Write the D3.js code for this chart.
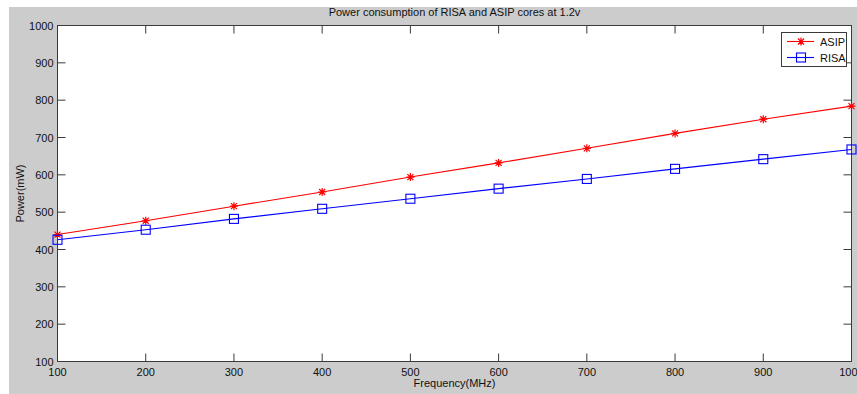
<!DOCTYPE html>
<html><head><meta charset="utf-8">
<script src="https://cdn.jsdelivr.net/npm/d3@7"></script>
<style>body{margin:0;background:#fff;}svg{display:block;font-family:"Liberation Sans",Arial,sans-serif;}</style>
</head><body><svg id="c" width="857" height="394"></svg>
<script>
const freq = [100,200,300,400,500,600,700,800,900,1000];
const asip = [440,477,516,554,594,632,671,711,749,784];
const risa = [426,453,482,509,536,563,589,616,642,668];
const xTicks = [100,200,300,400,500,600,700,800,900,1000];
const yTicks = [100,200,300,400,500,600,700,800,900,1000];
const title = "Power consumption of RISA and ASIP cores at 1.2v";
const xLabel = "Frequency(MHz)";
const yLabel = "Power(mW)";

const svg = d3.select("#c");
svg.append("rect").attr("x",9).attr("y",7).attr("width",848).attr("height",387).attr("fill","#cccccc");
const L=57.5, R=851.5, T=25.5, B=361.5;
const x = d3.scaleLinear().domain([100,1000]).range([L,R]);
const y = d3.scaleLinear().domain([100,1000]).range([B,T]);
svg.append("rect").attr("x",L).attr("y",T).attr("width",R-L).attr("height",B-T).attr("fill","#fff");

const axCol="#3a3a3a", tk=8;
const g = svg.append("g");
// ticks
xTicks.forEach(v=>{
  g.append("line").attr("x1",x(v)).attr("x2",x(v)).attr("y1",B).attr("y2",B-tk).attr("stroke",axCol);
  g.append("line").attr("x1",x(v)).attr("x2",x(v)).attr("y1",T).attr("y2",T+tk).attr("stroke",axCol);
  g.append("text").attr("x",x(v)).attr("y",B+14).attr("text-anchor","middle").attr("font-size",11).attr("fill","#111").text(v);
});
yTicks.forEach(v=>{
  g.append("line").attr("y1",y(v)).attr("y2",y(v)).attr("x1",L).attr("x2",L+tk).attr("stroke",axCol);
  g.append("line").attr("y1",y(v)).attr("y2",y(v)).attr("x1",R).attr("x2",R-tk).attr("stroke",axCol);
  g.append("text").attr("x",L-4).attr("y",y(v)+4).attr("text-anchor","end").attr("font-size",11).attr("fill","#111").text(v);
});
g.append("rect").attr("x",L).attr("y",T).attr("width",R-L).attr("height",B-T).attr("fill","none").attr("stroke",axCol);

svg.append("text").attr("x",(L+R)/2).attr("y",16).attr("text-anchor","middle").attr("font-size",11).attr("fill","#111").text(title);
svg.append("text").attr("x",(L+R)/2).attr("y",387).attr("text-anchor","middle").attr("font-size",11).attr("fill","#111").text(xLabel);
svg.append("text").attr("transform","translate(24,"+((T+B)/2)+") rotate(-90)").attr("text-anchor","middle").attr("font-size",11).attr("fill","#111").text(yLabel);

const line = d3.line();
function star(sel,cx,cy,col){
  const s=4, d=3;
  sel.append("path").attr("d",`M${cx-s},${cy}H${cx+s}M${cx},${cy-s}V${cy+s}M${cx-d},${cy-d}L${cx+d},${cy+d}M${cx-d},${cy+d}L${cx+d},${cy-d}`).attr("stroke",col).attr("stroke-width",1.2).attr("fill","none");
}
function square(sel,cx,cy,col){
  sel.append("rect").attr("x",cx-4.5).attr("y",cy-4.5).attr("width",9).attr("height",9).attr("fill","none").attr("stroke",col).attr("stroke-width",1.1);
}
const series=[{name:"ASIP",vals:asip,col:"#ff0000",m:star},{name:"RISA",vals:risa,col:"#0000ff",m:square}];
const pg = svg.append("g");
series.forEach(s=>{
  pg.append("path").attr("d",line(freq.map((f,i)=>[x(f),y(s.vals[i])]))).attr("fill","none").attr("stroke",s.col).attr("stroke-width",1.1);
  freq.forEach((f,i)=>s.m(pg,x(f),y(s.vals[i]),s.col));
});
// legend
const lg = svg.append("g");
lg.append("rect").attr("x",781.5).attr("y",32.5).attr("width",65).attr("height",34).attr("fill","#fff").attr("stroke",axCol);
series.forEach((s,i)=>{
  const ly=41.5+i*16;
  lg.append("line").attr("x1",787).attr("x2",814).attr("y1",ly).attr("y2",ly).attr("stroke",s.col).attr("stroke-width",1.1);
  s.m(lg,801,ly,s.col);
  lg.append("text").attr("x",820).attr("y",ly+4).attr("font-size",11).attr("fill","#111").text(s.name);
});
</script></body></html>
